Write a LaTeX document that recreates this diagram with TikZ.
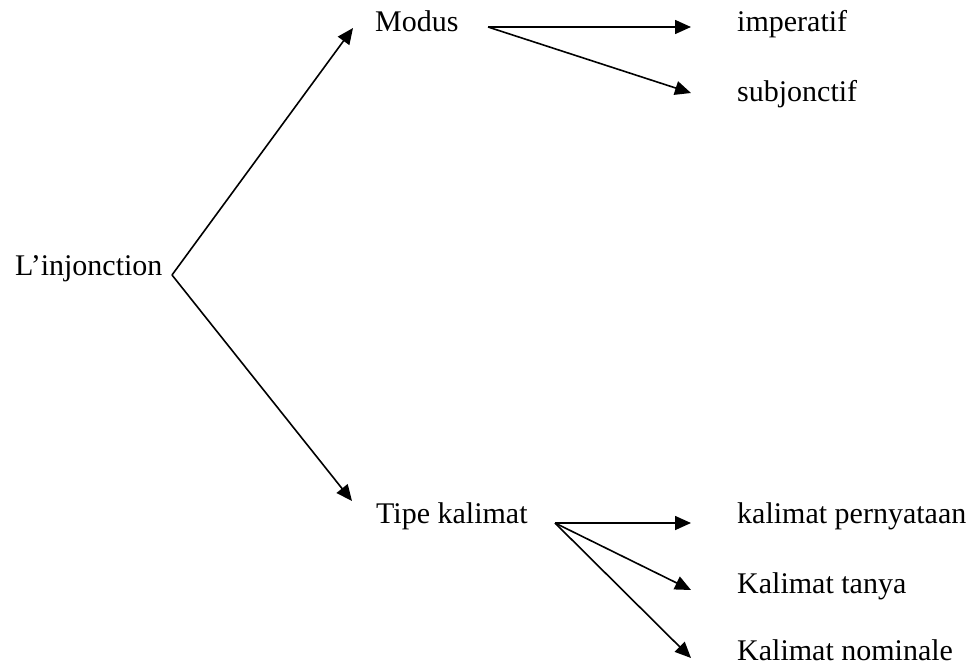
\documentclass[tikz,border=0pt]{standalone}
\usepackage{fontspec}
\setmainfont{Liberation Serif}
\usetikzlibrary{arrows.meta}
\begin{document}
\begin{tikzpicture}[x=1pt,y=-1pt,
  lbl/.style={anchor=base west,inner sep=0pt,font=\fontsize{30}{36}\selectfont},
  conn/.style={line width=1.6pt,-{Triangle[length=16pt,width=14pt]}}]
\useasboundingbox (0,0) rectangle (971,666);
% texts
\node[lbl] (inj) at (15,275) {L’injonction};
\node[lbl] (mod) at (375,32) {Modus};
\node[lbl] (imp) at (737,32) {imperatif};
\node[lbl] (sub) at (737,102) {subjonctif};
\node[lbl] (tip) at (376,523) {Tipe kalimat};
\node[lbl] (kp) at (737,523) {kalimat pernyataan};
\node[lbl] (kt) at (737,593) {Kalimat tanya};
\node[lbl] (kn) at (737,660) {Kalimat nominale};
% connector points
\coordinate (j) at (172,275);
\coordinate (modIn) at (353,28);
\coordinate (tipIn) at (352,501);
\coordinate (modOut) at (488,27);
\coordinate (impIn) at (691,27);
\coordinate (subIn) at (691,93);
\coordinate (tipOut) at (555,523);
\coordinate (kpIn) at (691,523);
\coordinate (ktIn) at (691,590);
\coordinate (knIn) at (691,658);
% connectors
\draw[conn] (j) -- (modIn);
\draw[conn] (j) -- (tipIn);
\draw[conn] (modOut) -- (impIn);
\draw[conn] (modOut) -- (subIn);
\draw[conn] (tipOut) -- (kpIn);
\draw[conn] (tipOut) -- (ktIn);
\draw[conn] (tipOut) -- (knIn);
\end{tikzpicture}
\end{document}
